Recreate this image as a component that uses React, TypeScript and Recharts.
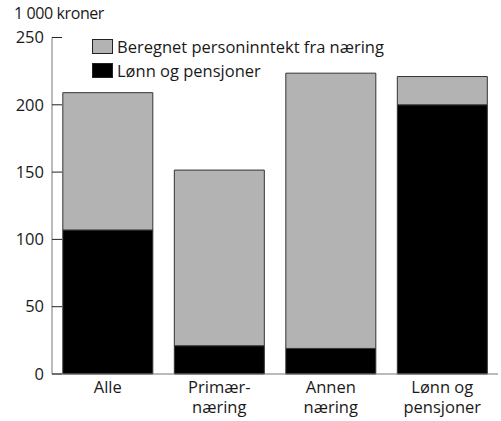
import { BarChart, Bar, XAxis, YAxis } from "recharts";

const categories = ["Alle", "Primær-\nnæring", "Annen\nnæring", "Lønn og\npensjoner"];
const lonn = [107, 21, 19, 200];
const naering = [102, 130.5, 204.5, 21];
const yTicks = [0, 50, 100, 150, 200, 250];

const data = categories.map((c, i) => ({ name: c, lonn: lonn[i], naering: naering[i] }));

const FONT = "'Open Sans', 'Noto Sans', sans-serif";
const FS = 16.5;
const GRAY = "#b3b3b3";
const AXIS = "#777";

const legendItems = [
  { label: "Beregnet personinntekt fra næring", color: GRAY },
  { label: "Lønn og pensjoner", color: "#000" },
];

const YTick = (props: any) => {
  const { x, y, payload } = props;
  return (
    <g>
      <line x1={x + 8} x2={x + 18} y1={y} y2={y} stroke="#222" strokeWidth={1} />
      <text x={x} y={y} dy="0.35em" textAnchor="end" fill="#1a1a1a" fontSize={FS} fontFamily={FONT}>
        {payload.value}
      </text>
    </g>
  );
};

const XTick = (props: any) => {
  const { x, y, payload } = props;
  const lines = String(payload.value).split("\n");
  return (
    <text x={x} y={y} textAnchor="middle" fill="#1a1a1a" fontSize={FS} fontFamily={FONT}>
      {lines.map((l, i) => (
        <tspan key={i} x={x} dy={i === 0 ? "0.71em" : 20}>
          {l}
        </tspan>
      ))}
    </text>
  );
};

export default function App() {
  return (
    <div style={{ position: "absolute", left: 0, top: 0, width: 501, height: 421, background: "#fff" }}>
      <div
        style={{
          position: "absolute",
          left: 14,
          top: 3,
          fontFamily: FONT,
          fontSize: 16,
          letterSpacing: -0.4,
          color: "#1a1a1a",
          lineHeight: "20px",
        }}
      >
        1 000 kroner
      </div>
      <BarChart
        width={501}
        height={421}
        data={data}
        margin={{ top: 37.5, right: 3, bottom: 17, left: 0 }}
        barCategoryGap="9.7%"
      >
        <XAxis
          dataKey="name"
          height={30}
          tick={<XTick />}
          tickLine={false}
          tickSize={0}
          tickMargin={7}
          axisLine={{ stroke: AXIS }}
          interval={0}
        />
        <YAxis
          width={52}
          domain={[0, 250]}
          ticks={yTicks}
          tick={<YTick />}
          tickLine={false}
          tickSize={0}
          tickMargin={8}
          axisLine={{ stroke: AXIS }}
        />
        <Bar dataKey="lonn" stackId="a" fill="#000" stroke="#333" strokeWidth={1} isAnimationActive={false} />
        <Bar dataKey="naering" stackId="a" fill={GRAY} stroke="#333" strokeWidth={1} isAnimationActive={false} />
      </BarChart>
      <div
        style={{
          position: "absolute",
          left: 92,
          top: 34,
          fontFamily: FONT,
          fontSize: FS,
          color: "#1a1a1a",
        }}
      >
        {legendItems.map((it) => (
          <div key={it.label} style={{ display: "flex", alignItems: "center", height: 24 }}>
            <span
              style={{
                display: "inline-block",
                width: 19,
                height: 13,
                background: it.color,
                border: "1px solid #222",
                marginRight: 4,
              }}
            />
            <span>{it.label}</span>
          </div>
        ))}
      </div>
    </div>
  );
}
